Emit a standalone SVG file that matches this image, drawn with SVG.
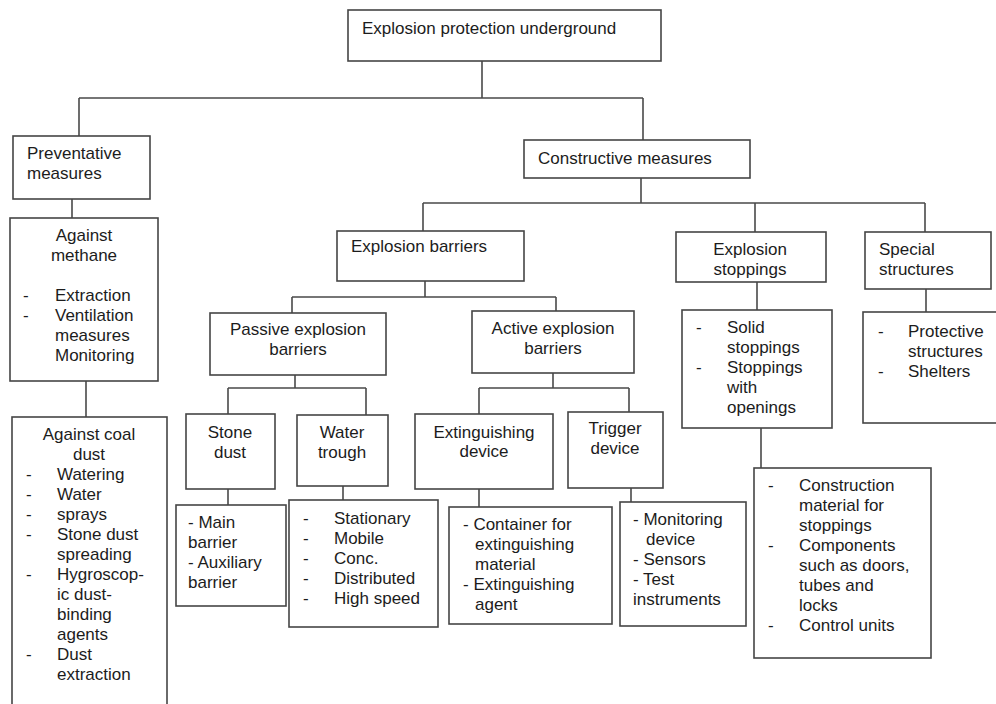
<svg xmlns="http://www.w3.org/2000/svg" width="996" height="704" viewBox="0 0 996 704">
<style>
.b{fill:#fff;stroke:#454545;stroke-width:1.6}
.t{font-family:"Liberation Sans",Arial,sans-serif;font-size:17px;fill:#1c1c1c}
.m{text-anchor:middle}
.c{fill:none;stroke:#4a4a4a;stroke-width:1.6}
</style>
<rect width="996" height="704" fill="#fff"/>
<g id="connectors">
<path class="c" d="M482,61V98M79,98H643M79,98V136M643,98V140"/>
<path class="c" d="M72,199V218M86,381V417"/>
<path class="c" d="M641,178V203M423,203H925M423,203V231M755,203V232M925,203V232"/>
<path class="c" d="M425,281V297M292,297H556M292,297V313M556,297V311"/>
<path class="c" d="M295,375V388M228,388H366M228,388V414M366,388V415"/>
<path class="c" d="M553,373V388M479,388H629M479,388V414M629,388V412"/>
<path class="c" d="M228,489V505M343,486V500M479,489V507M631,488V502"/>
<path class="c" d="M757,282V310M926,289V312M761,428V468"/>
</g>
<g id="root"><rect class="b" x="348" y="10" width="313" height="51"/><text class="t" x="362" y="34">Explosion protection underground</text></g>
<g id="preventative"><rect class="b" x="13" y="136" width="137" height="63"/><text class="t" x="27" y="159">Preventative</text><text class="t" x="27" y="179">measures</text></g>
<g id="constructive"><rect class="b" x="524" y="140" width="226" height="38"/><text class="t" x="538" y="164">Constructive measures</text></g>
<g id="methane"><rect class="b" x="10" y="218" width="148" height="163"/>
<text class="t m" x="84" y="241">Against</text><text class="t m" x="84" y="261">methane</text>
<text class="t" x="23" y="301">-</text><text class="t" x="55" y="301">Extraction</text>
<text class="t" x="23" y="321">-</text><text class="t" x="55" y="321">Ventilation</text>
<text class="t" x="55" y="341">measures</text>
<text class="t" x="55" y="361">Monitoring</text></g>
<g id="coaldust"><rect class="b" x="12" y="417" width="155" height="310"/>
<text class="t m" x="89" y="440">Against coal</text><text class="t m" x="89" y="460">dust</text>
<text class="t" x="26" y="480">-</text><text class="t" x="57" y="480">Watering</text>
<text class="t" x="26" y="500">-</text><text class="t" x="57" y="500">Water</text>
<text class="t" x="26" y="520">-</text><text class="t" x="57" y="520">sprays</text>
<text class="t" x="26" y="540">-</text><text class="t" x="57" y="540">Stone dust</text>
<text class="t" x="57" y="560">spreading</text>
<text class="t" x="26" y="580">-</text><text class="t" x="57" y="580">Hygroscop-</text>
<text class="t" x="57" y="600">ic dust-</text>
<text class="t" x="57" y="620">binding</text>
<text class="t" x="57" y="640">agents</text>
<text class="t" x="26" y="660">-</text><text class="t" x="57" y="660">Dust</text>
<text class="t" x="57" y="680">extraction</text></g>
<g id="barriers"><rect class="b" x="337" y="231" width="187" height="50"/><text class="t" x="351" y="252">Explosion barriers</text></g>
<g id="passive"><rect class="b" x="210" y="313" width="176" height="62"/><text class="t m" x="298" y="335">Passive explosion</text><text class="t m" x="298" y="355">barriers</text></g>
<g id="active"><rect class="b" x="472" y="311" width="162" height="62"/><text class="t m" x="553" y="334">Active explosion</text><text class="t m" x="553" y="354">barriers</text></g>
<g id="stonedust"><rect class="b" x="186" y="414" width="89" height="75"/><text class="t m" x="230" y="438">Stone</text><text class="t m" x="230" y="458">dust</text></g>
<g id="stonelist"><rect class="b" x="176" y="505" width="110" height="101"/>
<text class="t" x="188" y="528">- Main</text><text class="t" x="188" y="548">barrier</text><text class="t" x="188" y="568">- Auxiliary</text><text class="t" x="188" y="588">barrier</text></g>
<g id="watertrough"><rect class="b" x="297" y="415" width="91" height="71"/><text class="t m" x="342" y="438">Water</text><text class="t m" x="342" y="458">trough</text></g>
<g id="waterlist"><rect class="b" x="289" y="500" width="149" height="127"/>
<text class="t" x="303" y="524">-</text><text class="t" x="334" y="524">Stationary</text>
<text class="t" x="303" y="544">-</text><text class="t" x="334" y="544">Mobile</text>
<text class="t" x="303" y="564">-</text><text class="t" x="334" y="564">Conc.</text>
<text class="t" x="303" y="584">-</text><text class="t" x="334" y="584">Distributed</text>
<text class="t" x="303" y="604">-</text><text class="t" x="334" y="604">High speed</text></g>
<g id="extdevice"><rect class="b" x="415" y="414" width="138" height="75"/><text class="t m" x="484" y="438">Extinguishing</text><text class="t m" x="484" y="457">device</text></g>
<g id="extlist"><rect class="b" x="449" y="507" width="163" height="117"/>
<text class="t" x="463" y="530">- Container for</text>
<text class="t" x="475" y="550">extinguishing</text>
<text class="t" x="475" y="570">material</text>
<text class="t" x="463" y="590">- Extinguishing</text>
<text class="t" x="475" y="610">agent</text></g>
<g id="trigger"><rect class="b" x="568" y="412" width="95" height="76"/><text class="t m" x="615" y="434">Trigger</text><text class="t m" x="615" y="454">device</text></g>
<g id="triggerlist"><rect class="b" x="620" y="502" width="126" height="124"/>
<text class="t" x="633" y="525">- Monitoring</text>
<text class="t" x="646" y="545">device</text>
<text class="t" x="633" y="565">- Sensors</text>
<text class="t" x="633" y="585">- Test</text>
<text class="t" x="633" y="605">instruments</text></g>
<g id="stoppings"><rect class="b" x="676" y="232" width="150" height="50"/><text class="t m" x="750" y="255">Explosion</text><text class="t m" x="750" y="275">stoppings</text></g>
<g id="stoppinglist"><rect class="b" x="682" y="310" width="150" height="118"/>
<text class="t" x="696" y="333">-</text><text class="t" x="727" y="333">Solid</text>
<text class="t" x="727" y="353">stoppings</text>
<text class="t" x="696" y="373">-</text><text class="t" x="727" y="373">Stoppings</text>
<text class="t" x="727" y="393">with</text>
<text class="t" x="727" y="413">openings</text></g>
<g id="special"><rect class="b" x="865" y="232" width="126" height="57"/><text class="t" x="879" y="255">Special</text><text class="t" x="879" y="275">structures</text></g>
<g id="speciallist"><rect class="b" x="863" y="312" width="140" height="111"/>
<text class="t" x="878" y="337">-</text><text class="t" x="908" y="337">Protective</text>
<text class="t" x="908" y="357">structures</text>
<text class="t" x="878" y="377">-</text><text class="t" x="908" y="377">Shelters</text></g>
<g id="construction"><rect class="b" x="754" y="468" width="177" height="190"/>
<text class="t" x="768" y="491">-</text><text class="t" x="799" y="491">Construction</text>
<text class="t" x="799" y="511">material for</text>
<text class="t" x="799" y="531">stoppings</text>
<text class="t" x="768" y="551">-</text><text class="t" x="799" y="551">Components</text>
<text class="t" x="799" y="571">such as doors,</text>
<text class="t" x="799" y="591">tubes and</text>
<text class="t" x="799" y="611">locks</text>
<text class="t" x="768" y="631">-</text><text class="t" x="799" y="631">Control units</text></g>
</svg>
